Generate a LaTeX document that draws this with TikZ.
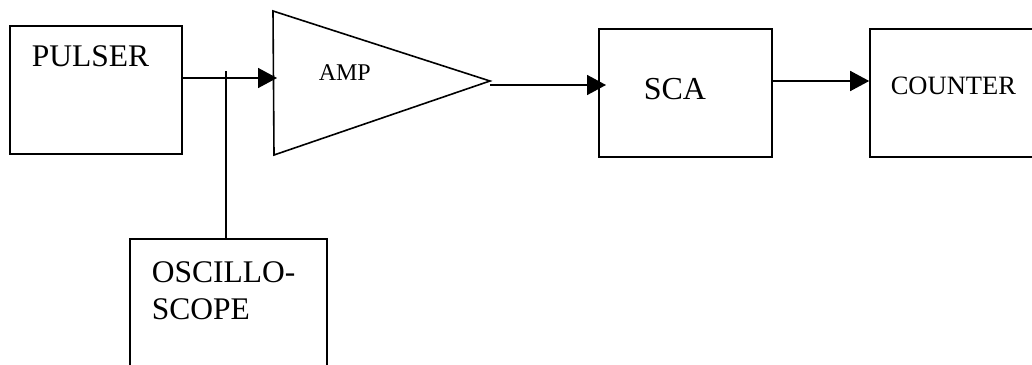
\documentclass[tikz,border=0pt]{standalone}
\usepackage{fontspec}
\setmainfont{Liberation Serif}
\usetikzlibrary{arrows.meta, calc}

\begin{document}
\begin{tikzpicture}[x=1pt, y=-1pt, line width=1.6pt,
    blok/.style={draw, rectangle, inner sep=0pt},
    lbl/.style={anchor=base west, inner sep=0pt},
    sig/.style={-{Triangle[length=19pt, width=20pt]}}]
            \useasboundingbox (0,0) rectangle (1032,364);
            \clip (0,0) rectangle (1032,364);

            % boxes
            \node[blok, minimum width=172pt, minimum height=128pt] (pulser) at (96,90) {};
            \node[blok, minimum width=173pt, minimum height=128pt] (sca) at (685.5,93) {};
            \node[blok, minimum width=200pt, minimum height=128pt] (counter) at (970,93) {};
            \node[blok, minimum width=197pt, minimum height=180pt] (scope) at (228.5,329) {};

            % amplifier
            \coordinate (T1) at (273,11);
            \coordinate (T2) at (274,155);
            \coordinate (T3) at (490,81);
            \draw (T1) -- (T2) -- (T3) -- cycle;

            \node[lbl, font=\fontsize{31.5}{37}\selectfont] (pulsertxt) at (31,66) {PULSER};
            \node[lbl, font=\fontsize{24}{29}\selectfont] (amptxt) at (318,80) {AMP};
            \node[lbl, font=\fontsize{32}{38}\selectfont] (scatxt) at (643,99) {SCA};
            \node[lbl, font=\fontsize{26.5}{32}\selectfont] (countertxt) at (890,94) {COUNTER};
            \node[lbl, font=\fontsize{31.5}{37}\selectfont] (scopetxt1) at (151,282) {OSCILLO-};
            \node[lbl, font=\fontsize{31.5}{37}\selectfont] (scopetxt2) at (151,319) {SCOPE};

            % signal path
            \coordinate (ampin) at (277,78);
            \coordinate (tap) at (226,71);
            \coordinate (scain) at (606,85);
            \draw[sig] (pulser.east |- ampin) -- (ampin);
            \draw (tap) -- (tap |- scope.north);
            \draw[sig] (T3 |- scain) -- (scain);
            \draw[sig] ($(sca.east)+(0,-12)$) -- ($(counter.west)+(0,-12)$);
        \end{tikzpicture}
\end{document}
